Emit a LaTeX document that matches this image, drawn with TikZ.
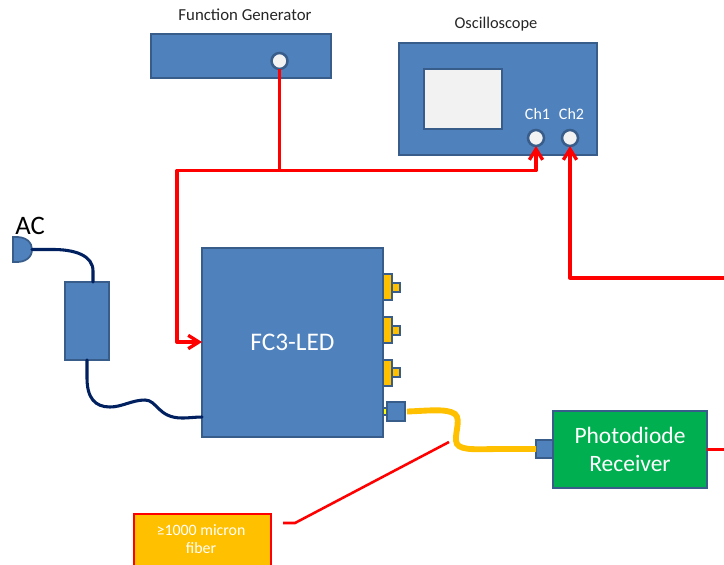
\documentclass[tikz,border=0pt]{standalone}
\usepackage{fontspec}
\setmainfont{Carlito}
\usetikzlibrary{arrows.meta}
\tikzset{
 x=0.75pt,y=-0.75pt,
 box/.style={draw=#1,line width=1.7pt,fill=blue0,rectangle,outer sep=0pt,inner sep=0pt,align=center},
 box/.default=blue1,
 sz/.style 2 args={minimum width=#1*0.75pt,minimum height=#2*0.75pt},
 port/.style={circle,draw=blue1,line width=1.9pt,fill=screen,minimum size=16pt*0.75,inner sep=0pt,outer sep=0pt},
 gold/.style={box,fill=gold0,line width=1.5pt},
 wire/.style={draw=red0,line width=2.5pt,line join=round},
 barb/.style={-{Straight Barb[length=8pt,width=10pt,line width=2.5pt]}},
 cable/.style={draw=navy0,line width=2.3pt,line cap=round},
 fiber/.style={draw=gold0,line width=4.4pt,line cap=butt},
 lead/.style={draw=red0,line width=1.9pt},
 tx/.style={font=\fontsize{#1}{#1}\selectfont,inner sep=0pt},
 lab/.style={tx=#1,text=white,align=center}
}
\definecolor{blue0}{HTML}{4F81BD}
\definecolor{blue1}{HTML}{385D8A}
\definecolor{screen}{HTML}{F2F2F2}
\definecolor{gold0}{HTML}{FFC000}
\definecolor{red0}{HTML}{FF0000}
\definecolor{navy0}{HTML}{002060}
\definecolor{green0}{HTML}{00B050}
\definecolor{yel0}{HTML}{FFFF00}
\definecolor{text0}{HTML}{262626}
\begin{document}
\begin{tikzpicture}
\useasboundingbox (0,0) rectangle (724,564);
\clip (0,0) rectangle (724,564);
% Function generator
\node[box,sz={180}{44}] (fg) at (241,56) {};
\node[port] (fgp) at (279.5,61) {};
\node[tx=12.6,text=text0] (fgl) at (245,15) {Function Generator};
% Oscilloscope
\node[box,sz={198}{112}] (osc) at (498,99) {};
\node[box,fill=screen,sz={78}{60}] (scr) at (463,99) {};
\node[port] (ch1) at (536,138) {};
\node[port] (ch2) at (570,138) {};
\node[lab=12] (ch1l) at (537.5,114) {Ch1};
\node[lab=12] (ch2l) at (571.5,114) {Ch2};
\node[tx=12.3,text=text0] (oscl) at (496,24) {Oscilloscope};
% FC3-LED
\node[box,sz={181}{189},lab=19] (fc3) at (292.5,342.5) {FC3-LED};
\foreach \n/\y in {a/287,b/330,c/372.5}{
 \node[gold,sz={9}{26}] (c\n) at (387.5,\y) {};
 \node[gold,sz={8}{9}] (s\n) at (396,\y) {};
}
\node[box,draw=blue1,fill=yel0,line width=1.1pt,sz={4}{7}] (yl) at (385,411.5) {};
\node[box,sz={18}{19}] (out) at (396,411.5) {};
% Photodiode
\node[box,fill=green0,sz={154}{77},lab=17.6] (pd) at (630,449.5) {Photodiode\\[3.4pt]Receiver};
\node[box,sz={17}{18}] (pin) at (544.5,449) {};
% Fiber
\draw[fiber] (out.east) ++(2,0) coordinate (f0)
  .. controls (425,411) and (447,408) .. (455,414)
  .. controls (462,420) and (453,436) .. (457,444)
  .. controls (461,451) and (480,449) .. (500,449) -- (pin.west);
% Leader label
\node[box,draw=red0,fill=gold0,line width=2.1pt,sz={137}{58}] (lb) at (202.5,543) {};
\node[lab=11.9] (lb1) at (201,530) {≥1000 micron};
\node[lab=11.9] (lb2) at (201,548) {fiber};
\coordinate (l0) at (283,523);
\coordinate (l1) at (295,523);
\coordinate (l2) at (449,442);
\draw[lead] (l0) -- (l1) -- (l2);
% AC plug
\node[tx=20,text=black] (ac) at (30,226) {AC};
\path[draw=blue1,line width=1.3pt,fill=blue0] (13,237) .. controls (27,236) and (32,243) .. (32,249.5)
  .. controls (32,257) and (26,263) .. (13,262) -- cycle;
\coordinate (plug) at (32,249.5);
% Adapter
\node[box,sz={44}{78}] (ad) at (87,321) {};
\draw[cable] (plug) -- (50,249.5) .. controls (76,249) and (93,256) .. (93,271) -- (93,282);
\draw[cable] (ad.south) -- (87,378) .. controls (87,398) and (95,407) .. (110,407)
  .. controls (122,407) and (132,400) .. (145,400)
  .. controls (157,400) and (158,418) .. (182,418)
  .. controls (190,418) and (195,417) .. (fc3.west |- 0,417);
% Red wires
\coordinate (j) at (279.5,170.5);
\coordinate (k) at (177,170.5);
\draw[wire] (fgp.south) -- (j);
\draw[wire,barb] (j) -| (ch1.south);
\draw[wire,barb] (j) -- (k) |- (fc3.west |- 0,342);
\coordinate (e2) at (724,278);
\draw[wire,barb] (e2) -| (ch2.south);
\coordinate (e1) at (724,449.5);
\draw[wire] (pd.east) -- (e1);
\end{tikzpicture}
\end{document}
